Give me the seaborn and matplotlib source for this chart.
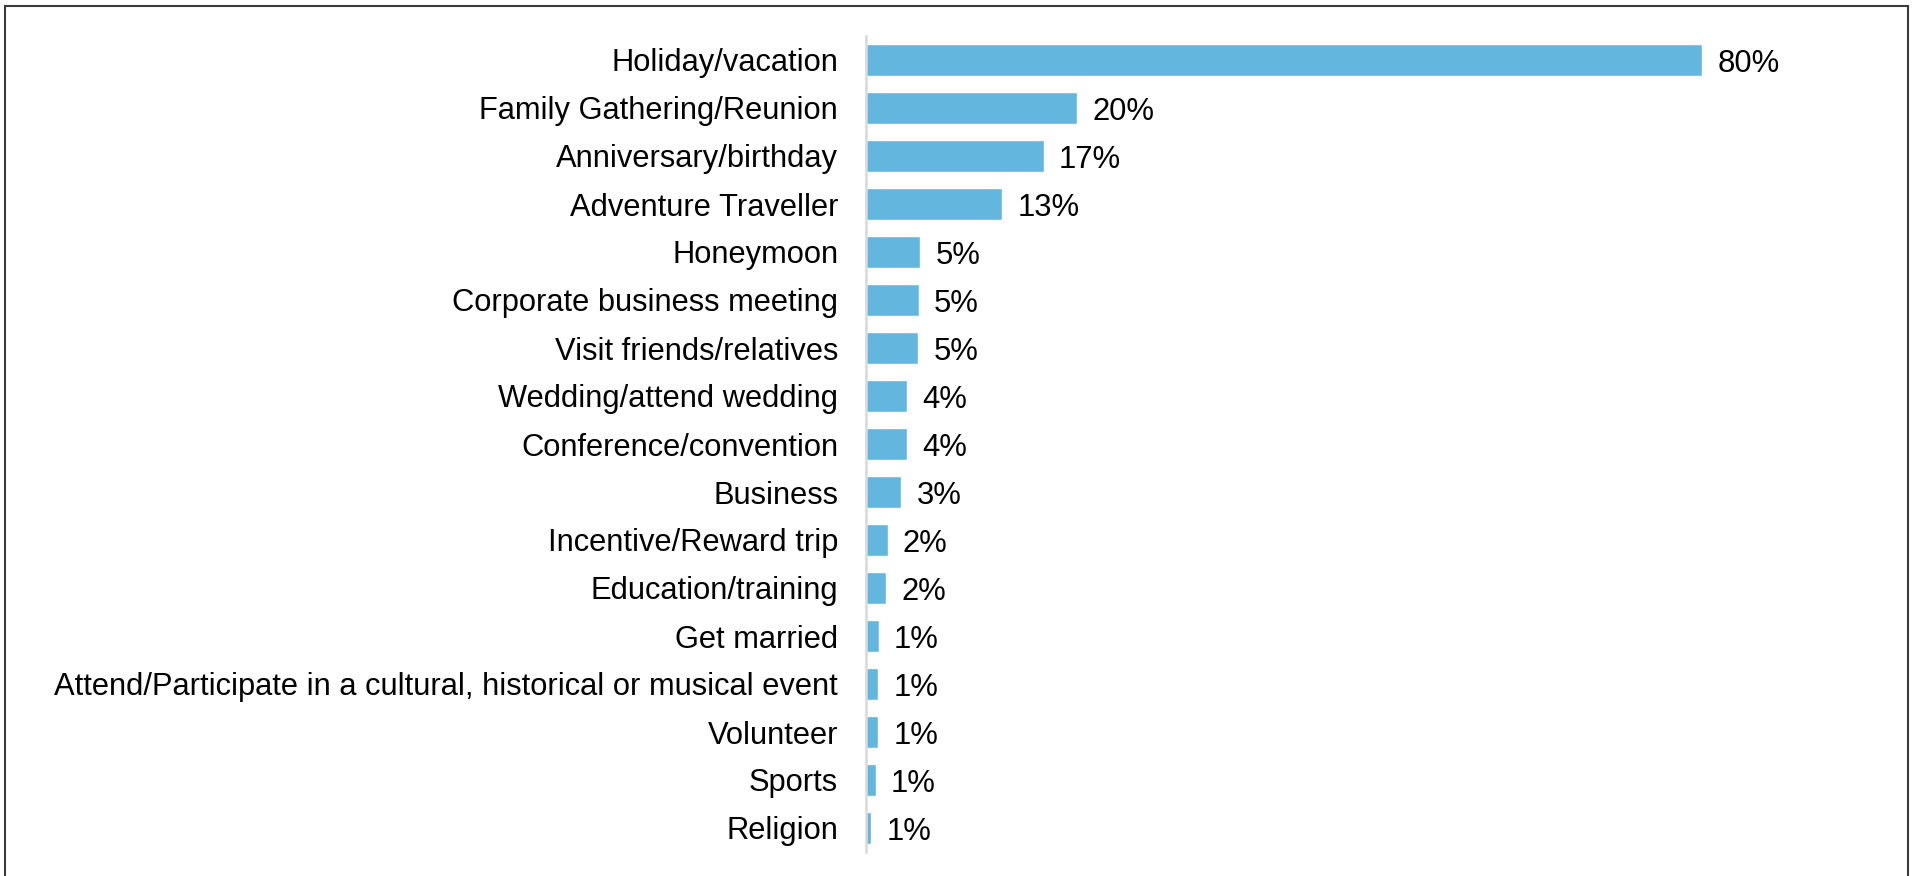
import matplotlib
matplotlib.use("Agg")
import matplotlib.pyplot as plt
import matplotlib.patches as mpatches
import seaborn as sns
import pandas as pd

categories = [
    "Holiday/vacation",
    "Family Gathering/Reunion",
    "Anniversary/birthday",
    "Adventure Traveller",
    "Honeymoon",
    "Corporate business meeting",
    "Visit friends/relatives",
    "Wedding/attend wedding",
    "Conference/convention",
    "Business",
    "Incentive/Reward trip",
    "Education/training",
    "Get married",
    "Attend/Participate in a cultural, historical or musical event",
    "Volunteer",
    "Sports",
    "Religion",
]
values = [80.0, 20.2, 17.0, 13.0, 5.17, 5.04, 4.98, 3.9, 3.9, 3.38, 2.07, 1.91,
          1.21, 1.15, 1.15, 0.93, 0.51]
value_labels = ["80%", "20%", "17%", "13%", "5%", "5%", "5%", "4%", "4%", "3%",
                "2%", "2%", "1%", "1%", "1%", "1%", "1%"]

df = pd.DataFrame({"category": categories, "value": values})

sns.set_theme(style="white")
plt.rcParams["font.family"] = ["Liberation Sans", "DejaVu Sans"]

W, H = 1912, 876
fig = plt.figure(figsize=(W / 100, H / 100), dpi=100)

ax_left_px = 866
ax_right_px = 1800
px_per_unit = 10.45
top_px, bottom_px = 36, 852
ax = fig.add_axes([ax_left_px / W, (H - bottom_px) / H,
                   (ax_right_px - ax_left_px) / W, (bottom_px - top_px) / H])

sns.barplot(data=df, x="value", y="category", orient="h", color="#63B7DE",
            saturation=1, width=0.667, ax=ax, order=categories)

ax.set_xlim(0, (ax_right_px - ax_left_px) / px_per_unit)
ax.set_ylim(len(categories) - 0.5, -0.5)
ax.set_xlabel("")
ax.set_ylabel("")
ax.set_xticks([])
ax.tick_params(axis="y", length=0, pad=20, labelsize=22.2, labelcolor="#000000")

for s in ["top", "right", "bottom"]:
    ax.spines[s].set_visible(False)
ax.spines["left"].set_color("#D9D9D9")
ax.spines["left"].set_linewidth(1.8)

texts = ax.bar_label(ax.containers[0], labels=value_labels, padding=11,
                     fontsize=22.3, color="#000000")
for t in texts:
    t.set_va("center_baseline")

frame = mpatches.Rectangle((5 / W, -0.05), (1908 - 5) / W, (H - 6) / H + 0.05,
                           transform=fig.transFigure, fill=False,
                           edgecolor="#3a3a3a", linewidth=1.5)
fig.patches.append(frame)

fig.savefig("out.png", dpi=100)
